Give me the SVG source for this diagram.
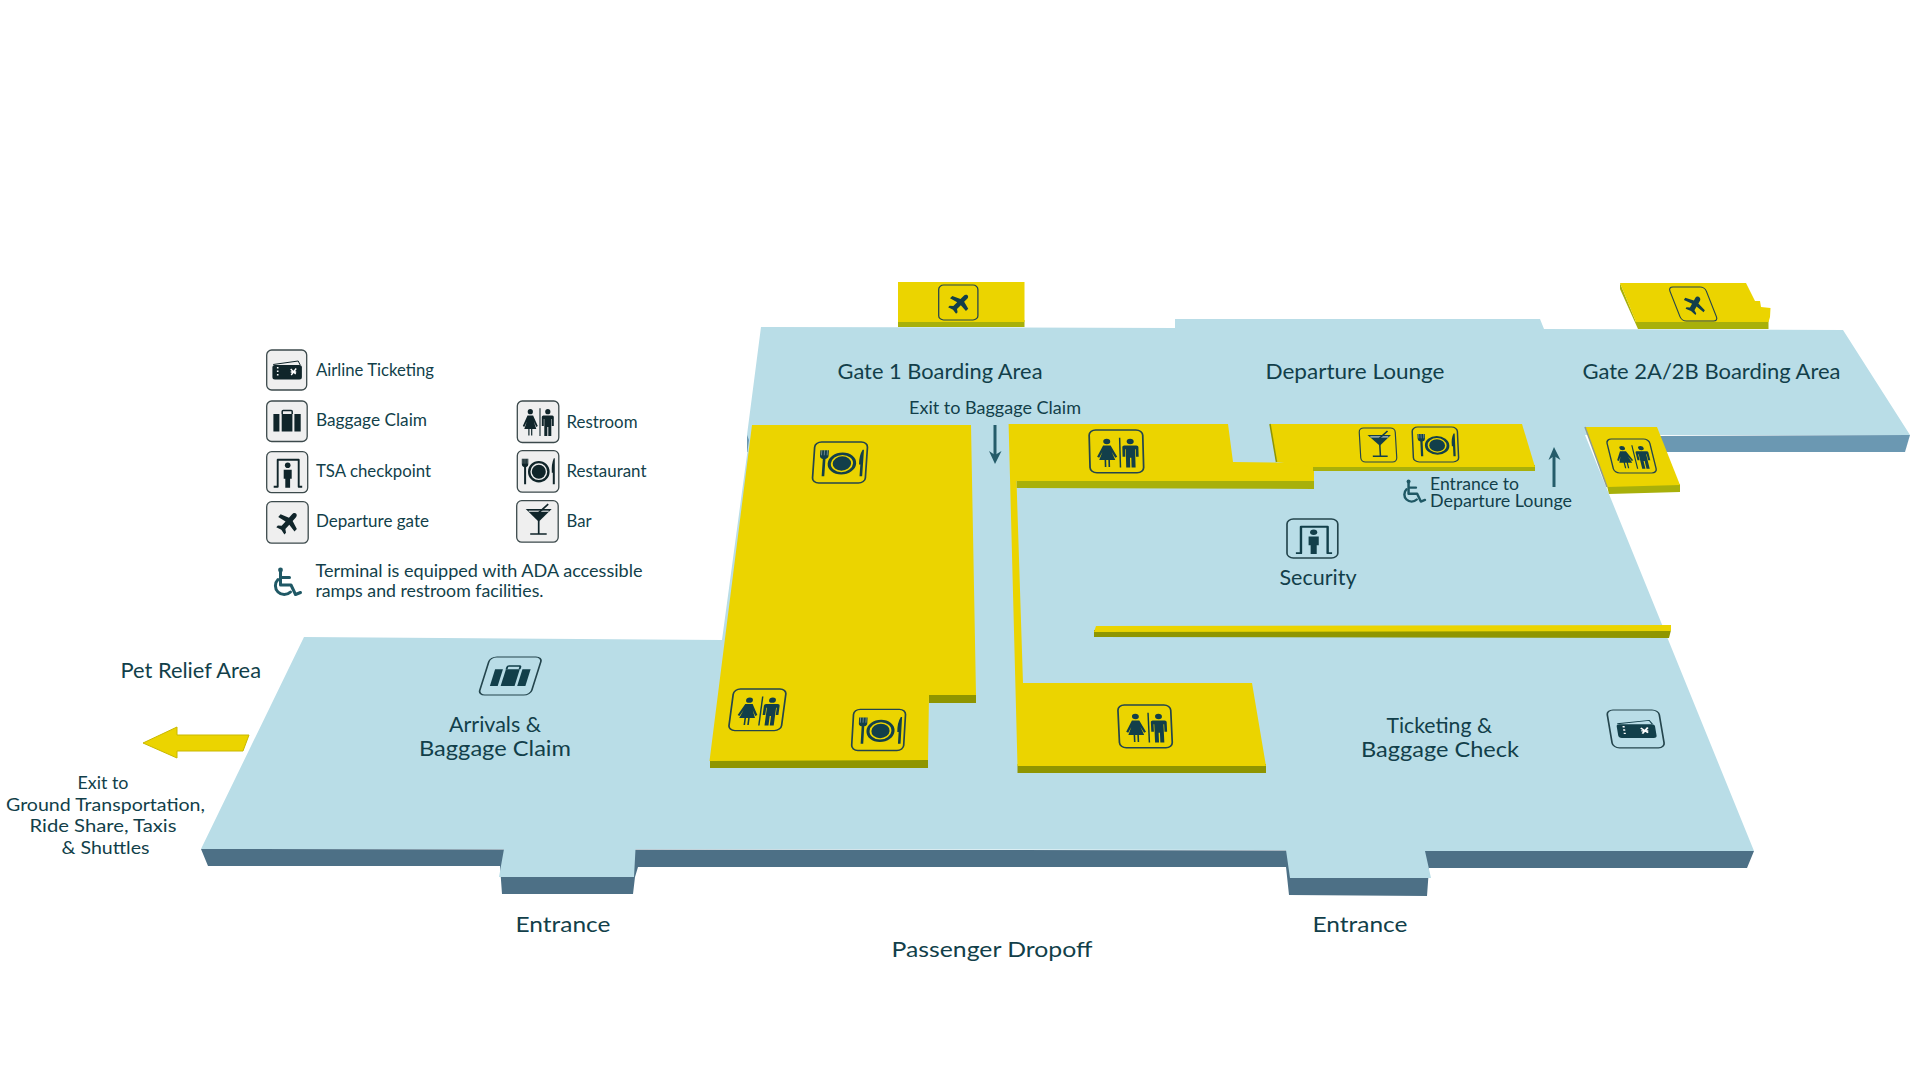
<svg xmlns="http://www.w3.org/2000/svg" xmlns:xlink="http://www.w3.org/1999/xlink" width="1920" height="1080" viewBox="0 0 1920 1080">
<style>
text{font-family:"Lato","Noto Sans","Liberation Sans",sans-serif;fill:#123f4a}
.t22{font-size:22px}.t18{font-size:18px}.t17{font-size:17px}
.floor{fill:#b9dde7}.front{fill:#4d7086}.upper{fill:#6b98b2}
.y{fill:#ebd400}.lime{fill:#a8b00a}.olive{fill:#8f9500}
.box{fill:none;stroke:#24454d;stroke-width:1.3}
.lbox{fill:#efefef;stroke:#3c4a4c;stroke-width:1.3}
.wc{fill:none;stroke:#1f5865;stroke-width:3;stroke-linecap:round;stroke-linejoin:round}
.ar{fill:none;stroke:#245c6a;stroke-width:3}
.arh{fill:#245c6a}
</style>
<defs>
<g id="i-ticket">
<path d="M6.5 14.5 31.5 11 33.5 15" fill="none" stroke="currentColor" stroke-width="1"/>
<rect x="5.7" y="15" width="29.5" height="14.5" rx="2.5" fill="currentColor"/>
<path d="M11 17v1.5M11 20.5v1.5M11 24v1.5" stroke="#fff" stroke-width="1.6"/>
<path d="M24 19l5 5M29.500 18.500l-5 6.500M24 22h5.500" stroke="#fff" stroke-width="1.400" fill="none"/>
</g>
<g id="i-bag">
<rect x="6.700" y="13" width="6" height="17.500" fill="currentColor"/>
<rect x="15" y="13" width="10.700" height="17.500" fill="currentColor"/>
<rect x="27.700" y="13" width="6.300" height="17.500" fill="currentColor"/>
<path d="M15.500 13V10.500q0-1 1-1h8q1 0 1 1V13" fill="none" stroke="currentColor" stroke-width="1.500"/>
</g>
<g id="i-tsa">
<path d="M7 35H11V8H32V35H35.500" fill="none" stroke="currentColor" stroke-width="1.900" stroke-linejoin="round"/>
<circle cx="21" cy="13.500" r="2.800" fill="currentColor"/>
<path d="M17 18h8v9h-1.600v9h-4.800v-9H17z" fill="currentColor"/>
</g>
<g id="i-plane">
<path transform="translate(21.500 20.500) rotate(42) scale(.78)" fill="currentColor" d="M0-15C2-15 3.200-13 3.200-11V-5L14-1V3.500L3.200 1.500V9L7 12V15L0 13.200-7 15V12L-3.200 9V1.500L-14 3.500V-1L-3.200-5V-11C-3.200-13-2-15 0-15Z"/>
</g>
<g id="i-rest">
<path d="M22.700 7.300V35" stroke="currentColor" stroke-width="1.100" fill="none"/>
<circle cx="13" cy="10.700" r="2.600" fill="currentColor"/>
<path d="M10.200 14.500h5.600L20.500 25 19 26 16.500 20.500 19 28H15V34.500H13.800V28H12.200V34.500H11V28H7L9.500 20.500 7 26 5.500 25Z" fill="currentColor"/>
<circle cx="30.500" cy="10.700" r="2.600" fill="currentColor"/>
<path d="M26 14.500H35q1.500 0 1.500 1.500V25H34.500V18H34V35H31V26H30V35H27V18H26.500V25H24.500V16q0-1.500 1.500-1.500Z" fill="currentColor"/>
</g>
<g id="i-food">
<circle cx="21.500" cy="21" r="9.600" fill="none" stroke="currentColor" stroke-width="2.400"/>
<circle cx="21.500" cy="21" r="7" fill="currentColor"/>
<path d="M4.500 8H11V13.500Q11 16 8.800 16.500V33.500H6.800V16.500Q4.500 16 4.500 13.500Z" fill="currentColor"/>
<path d="M5.600 8V13M7.700 8V13M9.900 8V13" stroke="#fff" stroke-opacity=".45" stroke-width=".7" fill="none"/>
<path d="M36.500 7.500Q34 13 34.500 22H35.500V33.500H37.500V7.500Z" fill="currentColor"/>
</g>
<g id="i-bar">
<path d="M9 8.300H35L22 21Z" fill="currentColor"/>
<path d="M12 10.500H32" stroke="#fff" stroke-width="1" fill="none"/>
<path d="M22 12 31.500 3.500M22 20V33M13.500 33.300H30" stroke="currentColor" stroke-width="1.700" fill="none"/>
</g>
<g id="i-wc">
<circle cx="8" cy="3" r="2.400" fill="#1f5865"/>
<path class="wc" d="M8 5V18H18.500L23 27.500 28 25.500M8 10.500H17"/>
<path class="wc" d="M5.500 12.500A8.500 8.500 0 1 0 18 25"/>
</g>
</defs>

<g id="floor">
<polygon class="upper" points="747,435 747,452 752,452 752,435"/>
<polygon class="upper" points="1657,436 1666,452 1905,452 1910,435"/>
<polygon class="front" points="201,849 208,866 500,866 502,894 633,894 635,877 638,867 1286,867 1289,895 1427,896 1429,868 1747,868 1754,851"/>
<polygon class="floor" points="304,637 722,640 749,440 747,435 761,327 1175,328 1175,319 1540,319 1544,329 1843,330 1910,435 1585,435 1754,851 1425,851 1431,878 1290,878 1286,850 635.500,849 634,877 499,877 504,849 201,849"/>
</g>

<g id="gate-1-block">
<rect class="lime" x="898" y="320" width="126.500" height="7"/>
<rect class="y" x="898" y="282" width="126.500" height="40"/>
</g>
<g id="gate-2-block">
<polygon class="lime" points="1620,283 1620,289 1638,329 1768.500,329 1768.500,321 1636,322"/>
<polygon class="y" points="1620,283 1746,283 1755,301 1760,301 1761,307 1770.500,308 1770,317 1768.500,322 1636,322"/>
</g>
<g id="restaurant-block">
<rect class="olive" x="710" y="759" width="218" height="9"/>
<rect class="olive" x="929" y="693" width="47" height="10"/>
<polygon class="y" points="752,425 971,425 976,695 929,695 928,760 709.500,761"/>
</g>
<g id="restroom-wall-block">
<polygon class="lime" points="1016.500,480 1314,480 1314,489 1016.500,488"/>
<polygon class="olive" points="1017.500,764 1266,764 1266,773 1017.500,773"/>
<polygon class="y" points="1008.600,424 1228,424 1233,462 1314,463 1314,481 1016.500,481 1023,683 1252,683 1266,766 1017.500,766"/>
</g>
<g id="lounge-block">
<polygon class="lime" points="1313,463 1535,465 1535,471 1313,471"/>
<polygon class="y" points="1270,424 1522,424 1535,467 1313,467 1277,462"/>
<path d="M1270 424 1276.500 462" stroke="#8f9500" stroke-width="1.500" fill="none"/>
</g>
<g id="restroom-block-right">
<polygon class="lime" points="1607,486 1680,484 1680,492 1609,494"/>
<polygon class="y" points="1585,427 1657,427 1680,485 1607,487"/>
<path d="M1585 427 1607 487" stroke="#8f9c8f" stroke-width="1.500" fill="none"/>
</g>
<g id="security-wall">
<polygon class="olive" points="1094,630 1671,630 1669,638 1094,637"/>
<polygon class="y" points="1096,626 1671,625 1671,631 1094,632"/>
</g>

<g id="legend">
<g id="legend-ticket" transform="translate(266.700 350)" color="#10252a"><rect class="lbox" width="40" height="40" rx="5"/><use href="#i-ticket"/></g>
<g id="legend-bag" transform="translate(266.700 401)" color="#10252a"><rect class="lbox" width="40.500" height="40.500" rx="5"/><use href="#i-bag"/></g>
<g id="legend-tsa" transform="translate(266.700 451.700)" color="#10252a"><rect class="lbox" width="41" height="41" rx="5"/><use href="#i-tsa"/></g>
<g id="legend-plane" transform="translate(266.700 501.700)" color="#10252a"><rect class="lbox" width="41.500" height="41.500" rx="5"/><use href="#i-plane"/></g>
<g id="legend-rest" transform="translate(517.300 401)" color="#10252a"><rect class="lbox" width="41.500" height="41.500" rx="5"/><use href="#i-rest"/></g>
<g id="legend-food" transform="translate(517.300 450.700)" color="#10252a"><rect class="lbox" width="41.500" height="41.500" rx="5"/><use href="#i-food"/></g>
<g id="legend-bar" transform="translate(516.700 500.700)" color="#10252a"><rect class="lbox" width="41.500" height="41.500" rx="5"/><use href="#i-bar"/></g>
<use href="#i-wc" transform="translate(272.500 567)"/>
<text class="t17" x="316" y="376" textLength="118" lengthAdjust="spacingAndGlyphs">Airline Ticketing</text>
<text class="t17" x="316" y="425.500" textLength="111" lengthAdjust="spacingAndGlyphs">Baggage Claim</text>
<text class="t17" x="316" y="476.500" textLength="115" lengthAdjust="spacingAndGlyphs">TSA checkpoint</text>
<text class="t17" x="316" y="527" textLength="113" lengthAdjust="spacingAndGlyphs">Departure gate</text>
<text class="t17" x="566.500" y="428" textLength="71" lengthAdjust="spacingAndGlyphs">Restroom</text>
<text class="t17" x="566.500" y="477" textLength="80" lengthAdjust="spacingAndGlyphs">Restaurant</text>
<text class="t17" x="566.500" y="527" textLength="25" lengthAdjust="spacingAndGlyphs">Bar</text>
<text class="t18" x="315.500" y="577" textLength="327" lengthAdjust="spacingAndGlyphs">Terminal is equipped with ADA accessible</text>
<text class="t18" x="315.500" y="597" textLength="228" lengthAdjust="spacingAndGlyphs">ramps and restroom facilities.</text>
</g>

<g id="floor-icons" color="#123f4a">
<g id="icon-gate1" transform="matrix(.98 0 0 .875 938.700 285)"><rect class="box" width="40" height="40" rx="5"/><use href="#i-plane"/></g>
<g id="icon-gate2" transform="matrix(.91 0 .335 .85 1668.300 287)"><rect class="box" width="40" height="40" rx="5"/><use href="#i-plane"/></g>
<g id="icon-food1" transform="matrix(1.320 0 -.07 1.025 815 442)"><rect class="box" width="40" height="40" rx="5"/><use href="#i-food"/></g>
<g id="icon-rest1" transform="matrix(1.340 0 .03 1.070 1089 430)"><rect class="box" width="40" height="40" rx="5"/><use href="#i-rest"/></g>
<g id="icon-bar" transform="matrix(.9 0 .05 .85 1359 428)"><rect class="box" width="40" height="40" rx="5"/><use href="#i-bar"/></g>
<g id="icon-food2" transform="matrix(1.130 0 .04 .875 1412 427)"><rect class="box" width="40" height="40" rx="5"/><use href="#i-food"/></g>
<g id="icon-rest2" transform="matrix(1.070 0 .21 .85 1606 439)"><rect class="box" width="40" height="40" rx="5"/><use href="#i-rest"/></g>
<g id="icon-tsa" transform="matrix(1.270 0 0 .975 1287 519)"><rect class="box" width="40" height="40" rx="5"/><use href="#i-tsa"/></g>
<g id="icon-bag" transform="matrix(1.300 0 -.3 .95 490.300 657)"><rect class="box" width="40" height="40" rx="5"/><use href="#i-bag"/></g>
<g id="icon-rest3" transform="matrix(1.315 0 -.14 1.040 733.900 689)"><rect class="box" width="40" height="40" rx="5"/><use href="#i-rest"/></g>
<g id="icon-food3" transform="matrix(1.300 0 -.06 1.030 853.800 709.300)"><rect class="box" width="40" height="40" rx="5"/><use href="#i-food"/></g>
<g id="icon-rest4" transform="matrix(1.320 0 .05 1.070 1117.700 705)"><rect class="box" width="40" height="40" rx="5"/><use href="#i-rest"/></g>
<g id="icon-ticket" transform="matrix(1.300 0 .16 .945 1606.500 710)"><rect class="box" width="40" height="40" rx="5"/><use href="#i-ticket"/></g>
</g>
<use href="#i-wc" transform="translate(1402 479) scale(.82)"/>

<g id="connectors">
<path class="ar" d="M995 425V458"/>
<polygon class="arh" points="989,451 995,455 1001.500,451 995,464"/>
<path class="ar" d="M1554 487V452"/>
<polygon class="arh" points="1548.500,460 1554,456 1560.500,460 1554,447"/>
<polygon class="y" stroke="#c9b800" stroke-width="1" points="143,743 177,727 177,735 249,735 243,751 177,751 177,758"/>
</g>

<g id="labels">
<text class="t22" x="837.500" y="379" textLength="205" lengthAdjust="spacingAndGlyphs">Gate 1 Boarding Area</text>
<text class="t17" x="909" y="414" textLength="172" lengthAdjust="spacingAndGlyphs">Exit to Baggage Claim</text>
<text class="t22" x="1265.500" y="379" textLength="179" lengthAdjust="spacingAndGlyphs">Departure Lounge</text>
<text class="t22" x="1582.500" y="379" textLength="258" lengthAdjust="spacingAndGlyphs">Gate 2A/2B Boarding Area</text>
<text class="t18" x="1430" y="490" textLength="89" lengthAdjust="spacingAndGlyphs">Entrance to</text>
<text class="t18" x="1430" y="507" textLength="142" lengthAdjust="spacingAndGlyphs">Departure Lounge</text>
<text class="t22" x="1279.500" y="585" textLength="77" lengthAdjust="spacingAndGlyphs">Security</text>
<text class="t22" x="120.500" y="677.500" textLength="140.500" lengthAdjust="spacingAndGlyphs">Pet Relief Area</text>
<text class="t22" x="449" y="732" textLength="92" lengthAdjust="spacingAndGlyphs">Arrivals &amp;</text>
<text class="t22" x="419" y="756" textLength="152" lengthAdjust="spacingAndGlyphs">Baggage Claim</text>
<text class="t18" x="77.500" y="789" textLength="51" lengthAdjust="spacingAndGlyphs">Exit to</text>
<text class="t18" x="6" y="811" textLength="199" lengthAdjust="spacingAndGlyphs">Ground Transportation,</text>
<text class="t18" x="29.500" y="832" textLength="147" lengthAdjust="spacingAndGlyphs">Ride Share, Taxis</text>
<text class="t18" x="61.500" y="854" textLength="88" lengthAdjust="spacingAndGlyphs">&amp; Shuttles</text>
<text class="t22" x="515.500" y="931.500" textLength="95" lengthAdjust="spacingAndGlyphs">Entrance</text>
<text class="t22" x="891.500" y="957" textLength="201" lengthAdjust="spacingAndGlyphs">Passenger Dropoff</text>
<text class="t22" x="1312.500" y="931.500" textLength="95" lengthAdjust="spacingAndGlyphs">Entrance</text>
<text class="t22" x="1386.500" y="733" textLength="105.500" lengthAdjust="spacingAndGlyphs">Ticketing &amp;</text>
<text class="t22" x="1361" y="757" textLength="158" lengthAdjust="spacingAndGlyphs">Baggage Check</text>
</g>
</svg>
